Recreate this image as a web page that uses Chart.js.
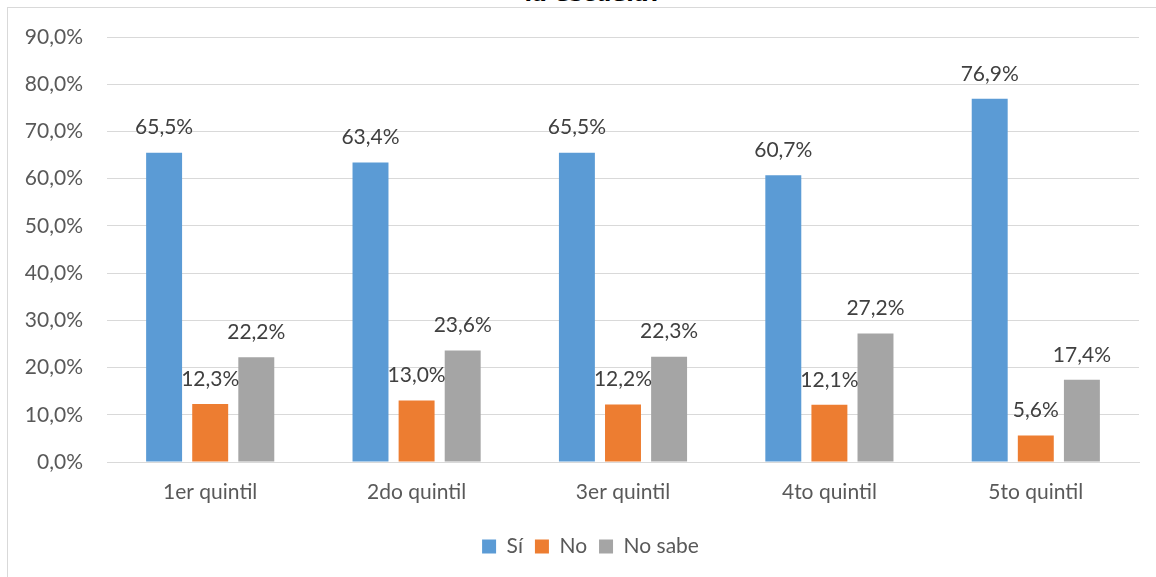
<!DOCTYPE html>
<html lang="es">
<head>
    <meta charset="utf-8">
    <title>Quintiles</title>
    <script src="https://cdn.jsdelivr.net/npm/chart.js@4.4.1/dist/chart.umd.min.js"></script>
    <style>
        body { margin: 0; background: #fff; overflow: hidden; }
        .marco {
            position: absolute; left: 7px; top: 7px;
            width: 1200px; height: 620px;
            border: 1px solid #d9d9d9;
        }
        .titulo {
            position: absolute; left: 0; width: 1186px; top: -19px;
            text-align: center;
            font: bold 22px "DejaVu Sans", sans-serif; color: #000;
        }
        canvas { position: absolute; left: 0; top: 0; }
    </style>
</head>
<body>
    <div class="titulo">la escuela?</div>
    <div class="marco"></div>
    <canvas id="grafico" width="1156" height="577"></canvas>
    <script>
        var quintiles = ['1er quintil', '2do quintil', '3er quintil', '4to quintil', '5to quintil'];
        var si = [65.5, 63.4, 65.5, 60.7, 76.9];
        var no = [12.3, 13.0, 12.2, 12.1, 5.6];
        var noSabe = [22.2, 23.6, 22.3, 27.2, 17.4];

        function pct(v) {
            return v.toFixed(1).replace('.', ',') + '%';
        }

        // etiquetas de valor encima de cada barra
        const etiquetas = {
            id: 'etiquetas',
            afterDatasetsDraw(chart) {
                const ctx = chart.ctx;
                ctx.save();
                ctx.font = '21px Lato';
                ctx.fillStyle = '#404040';
                ctx.textAlign = 'center';
                ctx.textBaseline = 'middle';
                chart.data.datasets.forEach((ds, i) => {
                    chart.getDatasetMeta(i).data.forEach((bar, j) => {
                        ctx.fillText(pct(ds.data[j]), bar.x, bar.y - 25);
                    });
                });
                ctx.restore();
            }
        };

        // corre la leyenda un poco a la derecha
        const moverLeyenda = {
            id: 'moverLeyenda',
            afterLayout(chart) {
                chart.legend.left += 21;
                chart.legend.right += 21;
            }
        };

        const ctx = document.getElementById('grafico').getContext('2d');
        const grafico = new Chart(ctx, {
            type: 'bar',
            data: {
                labels: quintiles,
                datasets: [
                    { label: 'Sí', data: si, backgroundColor: '#5B9BD5' },
                    { label: 'No', data: no, backgroundColor: '#ED7D31' },
                    { label: 'No sabe', data: noSabe, backgroundColor: '#A5A5A5' }
                ]
            },
            options: {
                responsive: false,
                animation: false,
                categoryPercentage: 0.67,
                barPercentage: 0.78,
                layout: { padding: { top: 37, right: 17, left: 0, bottom: 10 } },
                plugins: {
                    tooltip: { enabled: false },
                    legend: {
                        position: 'bottom',
                        labels: {
                            boxWidth: 14, boxHeight: 14, padding: 12,
                            color: '#595959',
                            font: { family: 'Lato', size: 21 }
                        }
                    }
                },
                scales: {
                    x: {
                        grid: { display: false, drawTicks: false },
                        border: { color: '#d9d9d9' },
                        ticks: { color: '#595959', padding: 18, font: { family: 'Lato', size: 21 } },
                        afterFit(scale) { scale.height = 62; }
                    },
                    y: {
                        min: 0, max: 90,
                        border: { display: false },
                        grid: { color: '#d9d9d9', drawTicks: false },
                        ticks: {
                            stepSize: 10, padding: 24, color: '#595959',
                            font: { family: 'Lato', size: 21 },
                            callback: v => pct(v)
                        },
                        afterFit(scale) { scale.width = 107; }
                    }
                }
            },
            plugins: [etiquetas, moverLeyenda]
        });
    </script>
</body>
</html>
